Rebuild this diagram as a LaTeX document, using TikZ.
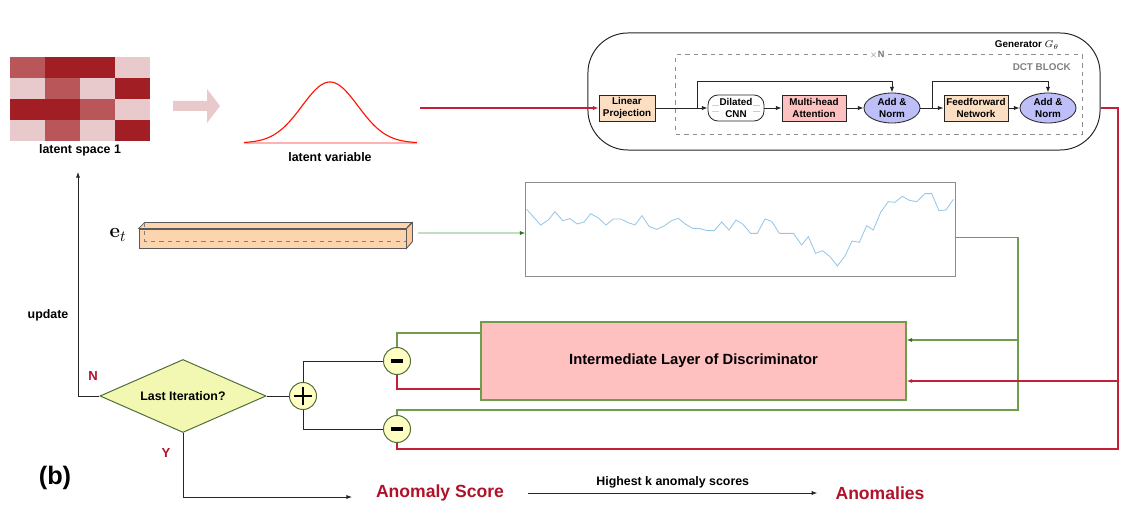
\documentclass[tikz,border=0pt]{standalone}
\usepackage[no-math]{fontspec}
\setmainfont{Liberation Sans}
\usetikzlibrary{arrows.meta,shapes.geometric}

\definecolor{hmD}{RGB}{161,31,36}
\definecolor{hmM}{RGB}{184,86,89}
\definecolor{hmL}{RGB}{233,202,204}
\definecolor{redl}{RGB}{196,32,56}
\definecolor{anom}{RGB}{176,18,42}
\definecolor{grnl}{RGB}{112,156,78}
\definecolor{dkgrn}{RGB}{48,110,28}
\definecolor{peach}{RGB}{252,222,194}
\definecolor{pinkbox}{RGB}{255,192,192}
\definecolor{lav}{RGB}{190,190,248}
\definecolor{ylw}{RGB}{255,255,196}
\definecolor{dia}{RGB}{242,247,178}
\definecolor{tsblue}{RGB}{150,198,232}

\begin{document}
\begin{tikzpicture}[x=0.025cm,y=-0.025cm,>={Latex[length=4pt,width=3pt]},
  lbl/.style={font=\bfseries\fontsize{8.8}{10}\selectfont,inner sep=0pt},
  gbox/.style={draw=black!85,line width=0.6pt,font=\bfseries\fontsize{7}{8}\selectfont,align=center,inner sep=0pt,minimum width=1.4cm,minimum height=0.65cm},
  addn/.style={gbox,ellipse,fill=lav,minimum width=1.4cm,minimum height=0.75cm},
  wire/.style={draw=black!85,line width=0.6pt},
  rwire/.style={draw=redl,line width=0.75pt},
  gwire/.style={draw=grnl,line width=0.75pt},
  op/.style={circle,draw=grnl!70!black,fill=ylw,line width=0.7pt,minimum size=0.675cm,inner sep=0pt},
  big/.style={font=\bfseries\fontsize{12.5}{14}\selectfont,text=anom,inner sep=0pt}]
\useasboundingbox (0,0) rectangle (1147,510);

% latent space
\foreach \r/\ca/\cb/\cc/\cd in {0/hmM/hmD/hmD/hmL,1/hmL/hmM/hmL/hmD,2/hmD/hmD/hmM/hmL,3/hmL/hmM/hmL/hmD}{
  \fill[\ca] (10,{57+21*\r}) rectangle ++(35,21);
  \fill[\cb] (45,{57+21*\r}) rectangle ++(35,21);
  \fill[\cc] (80,{57+21*\r}) rectangle ++(35,21);
  \fill[\cd] (115,{57+21*\r}) rectangle ++(35,21);
}
\node[lbl] (ls) at (80,150) {latent space 1};
\fill[hmL] (173,101) -- (207,101) -- (207,89) -- (220,106) -- (207,123) -- (207,111) -- (173,111) -- cycle;

% latent variable
\draw[red!30,line width=0.8pt] (244,143) -- (417,143);
\draw[red!85!orange,line width=0.8pt] plot[domain=244:417,samples=90] (\x,{143-61*exp(-((\x-330)^2)/1568)});
\node[lbl] (lv) at (330,157) {latent variable};
\coordinate (zin) at (420,108);

% generator
\node[draw=black!85,line width=0.7pt,rounded corners=1cm,minimum width=12.8cm,minimum height=2.925cm] (gen) at (844,91.5) {};
\node[draw=black!45,dashed,line width=0.7pt,minimum width=10.15cm,minimum height=1.975cm] (dct) at (879,94.5) {};
\node[font=\bfseries\fontsize{7}{8}\selectfont,inner sep=0pt] (gl) at (1027,45) {Generator $G_\theta$};
\node[fill=white,text=black!55,font=\bfseries\fontsize{6.5}{8}\selectfont,inner sep=1pt] (xn) at (877,55) {$\times$N};
\node[anchor=east,text=black!50,font=\bfseries\fontsize{7}{8}\selectfont,inner sep=0pt] (dl) at (1071,67) {DCT BLOCK};

\node[gbox,fill=peach] (lp) at (627,108) {Linear\\Projection};
\node[gbox,fill=white,rounded corners=0.25cm] (dil) at (736,108) {Dilated\\CNN};
\node[gbox,fill=pinkbox,minimum width=1.6cm] (mha) at (814,108) {Multi-head\\Attention};
\node[addn] (add1) at (892,108) {Add \&\\Norm};
\node[gbox,fill=peach,minimum width=1.6cm] (ff) at (976,108) {Feedforward\\Network};
\node[addn] (add2) at (1048,108) {Add \&\\Norm};
\foreach \dy in {-0.08,0.08}{
  \draw[red!25,line width=0.4pt] ([xshift=0.1cm,yshift=\dy cm]dil.west) -- ++(7,0);
  \draw[black!20,line width=0.4pt] ([xshift=-0.1cm,yshift=\dy cm]dil.east) -- ++(-7,0);
}

\coordinate (s1) at (697,108);
\coordinate (s2) at (932,108);
\draw[rwire,->] (zin) -- (lp);
\draw[wire,->] (lp) -- (dil);
\draw[wire,->] (dil) -- (mha);
\draw[wire,->] (mha) -- (add1);
\draw[wire,->] (add1) -- (ff);
\draw[wire,->] (ff) -- (add2);
\draw[wire,->] (s1) -- ++(0,-27) -| (add1.north);
\draw[wire,->] (s2) -- ++(0,-27) -| (add2.north);

% e_t and series
\node[font=\fontsize{15}{18}\selectfont,inner sep=0pt] (etl) at (118,235) {$\mathbf{e}_t$};
\node[draw=black!65,fill=peach!90!orange,line width=0.6pt,minimum width=6.675cm,minimum height=0.475cm,inner sep=0pt] (et) at (272.5,238.5) {};
\draw[draw=black!65,fill=peach!90!orange,line width=0.6pt] (et.north west) -- ++(6,-6) -- ++(267,0) -- (et.north east) -- cycle;
\draw[draw=black!65,fill=peach!80!orange,line width=0.6pt] (et.north east) -- ++(6,-6) -- ++(0,19) -- (et.south east) -- cycle;
\draw[black!50,dashed,line width=0.5pt] (et.north west) ++(6,-6) -- ++(0,19) -- ++(261,0);
\coordinate (etR) at (418,233);

\node[draw=black!45,line width=0.7pt,minimum width=10.725cm,minimum height=2.325cm] (ts) at (740.5,229.5) {};
\draw[green!50!black!25!white,line width=0.9pt,-{Latex[length=4pt,width=3pt,color=dkgrn]}] (etR) -- (etR -| ts.west);
\begin{scope}[shift={(520,180)},xscale=1/3,yscale=1/3]
\draw[tsblue,line width=0.6pt] plot coordinates {(20,88) (62,135) (85,120) (105,95) (128,122) (150,116) (172,132) (192,126) (212,101) (235,114) (258,135) (280,117) (302,117) (325,128) (345,135) (366,107) (388,140) (410,148) (432,138) (455,122) (475,115) (497,133) (518,145) (540,146) (562,152) (583,152) (605,126) (627,150) (648,120) (668,132) (692,160) (712,160) (735,117) (755,124) (778,160) (800,160) (820,160) (845,195) (865,170) (887,220) (908,212) (930,230) (952,258) (975,228) (996,183) (1018,187) (1040,137) (1060,150) (1082,97) (1105,65) (1125,67) (1147,49) (1168,61) (1190,65) (1215,41) (1235,41) (1257,92) (1278,90) (1300,58)};
\end{scope}

% discriminator and loss
\node[draw=grnl,fill=pinkbox,line width=0.8pt,minimum width=10.625cm,minimum height=1.95cm,font=\bfseries\fontsize{10.5}{12}\selectfont] (disc) at (693.5,361) {Intermediate Layer of Discriminator};
\node[op] (m1) at (397,361) {};
\node[op] (m2) at (397,429) {};
\node[op] (pl) at (303,396) {};
\draw[line width=3.2pt] ([xshift=-0.15cm]m1.center) -- ([xshift=0.15cm]m1.center);
\draw[line width=3.2pt] ([xshift=-0.15cm]m2.center) -- ([xshift=0.15cm]m2.center);
\draw[line width=1.4pt] ([xshift=-0.22cm]pl.center) -- ([xshift=0.22cm]pl.center);
\draw[line width=1.4pt] ([yshift=-0.22cm]pl.center) -- ([yshift=0.22cm]pl.center);
\node[diamond,aspect=2.27,draw=grnl!70!black,fill=dia,line width=0.7pt,minimum width=4.15cm,minimum height=1.825cm,lbl] (dec) at (183,396) {Last Iteration?};

\coordinate (gb) at (1018,410);
\coordinate (rb) at (1118,449);
\coordinate (dg) at ([yshift=0.525cm]disc.east);
\coordinate (dr) at ([yshift=-0.5cm]disc.east);
\draw[gwire] ([yshift=-0.19cm]ts.east) -| (gb) -| (m2.north);
\draw[gwire,-{Latex[length=4pt,width=3pt,color=dkgrn]}] (gb |- dg) -- (dg);
\draw[rwire] (gen.east |- add2) -| (rb) -| (m2.south);
\draw[rwire,->] (rb |- dr) -- (dr);
\draw[gwire] ([yshift=0.7cm]disc.west) -| (m1.north);
\draw[rwire] ([yshift=-0.7cm]disc.west) -| (m1.south);
\draw[wire] (dec) -- (pl);
\draw[wire] (pl.north) |- (m1.west);
\draw[wire] (pl.south) |- (m2.west);

% decision
\coordinate (upd) at (78,172);
\coordinate (yend) at (352,497);
\draw[wire,->] (dec.west) -| (upd);
\draw[wire,->] (dec.south) |- (yend);
\node[lbl] (ul) at (48,315) {update};
\node[font=\bfseries\fontsize{9.3}{11}\selectfont,text=anom,inner sep=0pt] (nl) at (93,376) {N};
\node[font=\bfseries\fontsize{9.3}{11}\selectfont,text=anom,inner sep=0pt] (yl) at (166,453) {Y};
\node[font=\bfseries\fontsize{18}{20}\selectfont,inner sep=0pt] (panel) at (55,478) {(b)};

% output
\node[big] (anom) at (440,493) {Anomaly Score};
\node[big] (anoms) at (880,493) {Anomalies};
\draw[wire,->] ([xshift=0.6cm]anom.east) -- ([xshift=-0.45cm]anoms.west) node[midway,above=3pt,lbl] {Highest k anomaly scores};
\end{tikzpicture}
\end{document}
